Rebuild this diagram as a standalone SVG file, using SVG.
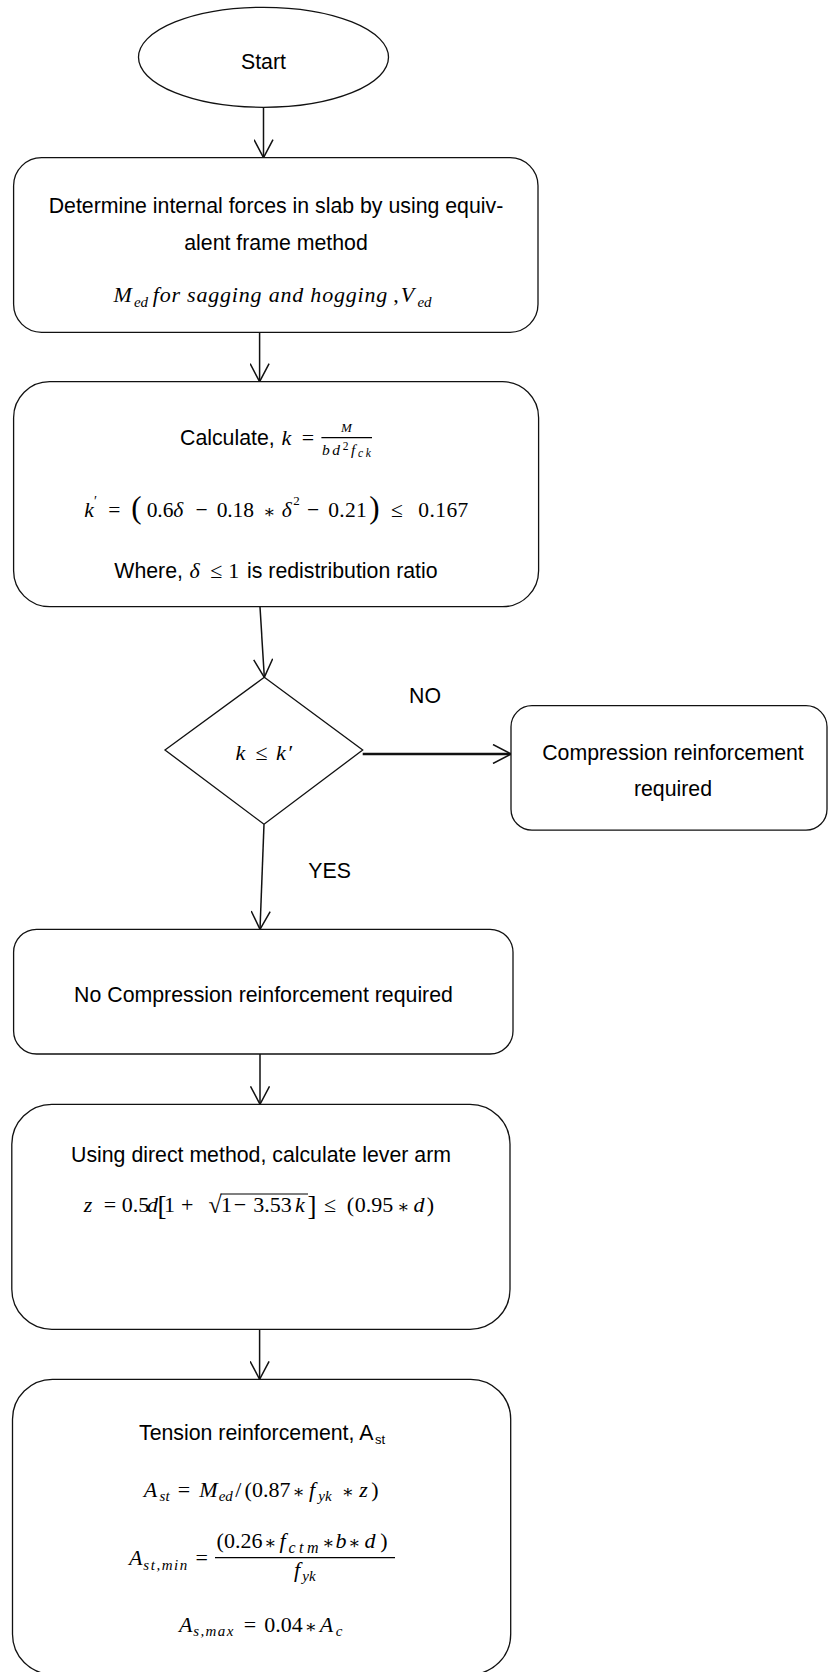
<svg xmlns="http://www.w3.org/2000/svg" width="828" height="1672" viewBox="0 0 828 1672">
  <defs>
    <style>
      .shape{fill:#fff;stroke:#111;stroke-width:1.3}
      .t{font-family:"Liberation Sans",Arial,sans-serif;font-size:21.3px;fill:#000}
      .m{font-family:"Liberation Serif","Times New Roman","DejaVu Serif",serif;font-size:22px;fill:#000;text-anchor:middle}
      .i{font-style:italic}
      .sub{font-size:15px}
      .op{font-size:18px}
      .big{font-size:31px}
      .bar{stroke:#000;stroke-width:1.2}
      .conn line{fill:none;stroke:#111;stroke-width:1.5}
    </style>
    <marker id="arrow" viewBox="0 0 20 20" refX="19" refY="10" markerWidth="20" markerHeight="20" markerUnits="userSpaceOnUse" orient="auto">
      <path d="M1,0.5 L19,10 L1,19.5" fill="none" stroke="#111" stroke-width="1.5"/>
    </marker>
  </defs>
  <rect width="828" height="1672" fill="#fff"/>

  <!-- connectors -->
  <g id="connectors" class="conn">
    <line x1="263.5" y1="107.3" x2="263.5" y2="157.7" marker-end="url(#arrow)"/>
    <line x1="259.6" y1="332.3" x2="259.6" y2="381.7" marker-end="url(#arrow)"/>
    <line x1="260" y1="606.7" x2="264.3" y2="677.3" marker-end="url(#arrow)"/>
    <line x1="362.7" y1="754" x2="511" y2="754" style="stroke-width:2.4" marker-end="url(#arrow)"/>
    <line x1="264" y1="824.3" x2="260" y2="929.3" marker-end="url(#arrow)"/>
    <line x1="260" y1="1054" x2="260" y2="1104.3" marker-end="url(#arrow)"/>
    <line x1="259.6" y1="1329.3" x2="259.6" y2="1379.3" marker-end="url(#arrow)"/>
    <text class="t" x="409" y="702.7">NO</text>
    <text class="t" x="308.3" y="878.3">YES</text>
  </g>

  <!-- start terminator -->
  <g id="start">
    <ellipse class="shape" cx="263.5" cy="57.3" rx="125" ry="50"/>
    <text class="t" x="263.5" y="68.5" text-anchor="middle">Start</text>
  </g>

  <!-- internal forces -->
  <g id="internal-forces">
    <rect class="shape" x="13.6" y="157.7" width="524.4" height="174.6" rx="28"/>
    <text class="t" x="276" y="213" text-anchor="middle">Determine internal forces in slab by using equiv-</text>
    <text class="t" x="276" y="250" text-anchor="middle">alent frame method</text>
    <text class="m i" x="122.7" y="302">M</text>
    <text class="m i sub" x="141" y="307">ed</text>
    <text class="m i" x="270" y="302" textLength="234.5">for sagging and hogging</text>
    <text class="m" x="396" y="302">,</text>
    <text class="m i" x="407.5" y="302">V</text>
    <text class="m i sub" x="424.5" y="307">ed</text>
  </g>

  <!-- k calculation -->
  <g id="calc-k">
    <rect class="shape" x="13.6" y="381.7" width="525" height="225" rx="36"/>
    <text class="t" x="180" y="445">Calculate,</text>
    <text class="m i" x="286.5" y="445">k</text>
    <text class="m" x="308" y="445">=</text>
    <line class="bar" x1="321.4" y1="437.7" x2="372" y2="437.7"/>
    <text class="m i" x="346.5" y="432" style="font-size:13px">M</text>
    <text class="m i" x="346.4" y="455" style="font-size:15.5px" textLength="49">bd<tspan style="font-style:normal;font-size:11.5px" dy="-5">2</tspan><tspan dy="5">f</tspan><tspan style="font-size:11.5px" dy="2">ck</tspan></text>

    <text class="m i" x="89" y="516.7" style="font-size:21.5px">k</text>
    <text class="m" x="95.5" y="506" style="font-size:14px">′</text>
    <text class="m" x="114.3" y="516.7" style="font-size:21.5px">=</text>
    <text class="m big" x="136.5" y="518">(</text>
    <text class="m" x="165" y="516.7" style="font-size:21.5px" textLength="36.6">0.6<tspan class="i">δ</tspan></text>
    <text class="m" x="201.5" y="516.7" style="font-size:21.5px">−</text>
    <text class="m" x="235.3" y="516.7" style="font-size:21.5px" textLength="37.3">0.18</text>
    <text class="m op" x="269" y="517.7">∗</text>
    <text class="m i" x="286.7" y="516.7" style="font-size:21.5px">δ</text>
    <text class="m" x="296.5" y="505" style="font-size:13px">2</text>
    <text class="m" x="313" y="516.7" style="font-size:21.5px">−</text>
    <text class="m" x="347.5" y="516.7" style="font-size:21.5px" textLength="38.4">0.21</text>
    <text class="m big" x="374.5" y="518">)</text>
    <text class="m" x="397" y="516.7" style="font-size:21.5px">≤</text>
    <text class="m" x="443.3" y="516.7" style="font-size:21.5px" textLength="50">0.167</text>

    <text class="t" x="114.3" y="578.3">Where,</text>
    <text class="m i" x="194.5" y="578.3">δ</text>
    <text class="m" x="216.3" y="578.3">≤</text>
    <text class="m" x="233.7" y="578.3">1</text>
    <text class="t" x="247" y="578.3">is redistribution ratio</text>
  </g>

  <!-- decision -->
  <g id="check-k">
    <polygon class="shape" points="264.3,677.3 362.7,750 264,824.3 165,750"/>
    <text class="m i" x="240.5" y="760">k</text>
    <text class="m" x="261.5" y="760">≤</text>
    <text class="m i" x="281" y="760">k</text>
    <text class="m" x="291" y="760">′</text>
  </g>

  <!-- compression reinforcement -->
  <g id="compression-required">
    <rect class="shape" x="511" y="705.7" width="316" height="124.5" rx="21"/>
    <text class="t" x="673" y="760" text-anchor="middle">Compression reinforcement</text>
    <text class="t" x="673" y="796" text-anchor="middle">required</text>
  </g>

  <!-- no compression reinforcement -->
  <g id="no-compression">
    <rect class="shape" x="13.6" y="929.3" width="499.4" height="124.7" rx="23"/>
    <text class="t" x="263.5" y="1001.7" text-anchor="middle">No Compression reinforcement required</text>
  </g>

  <!-- lever arm -->
  <g id="lever-arm">
    <rect class="shape" x="11.8" y="1104.3" width="498.2" height="225" rx="40"/>
    <text class="t" x="261" y="1161.7" text-anchor="middle">Using direct method, calculate lever arm</text>
    <text class="m i" x="88" y="1212">z</text>
    <text class="m" x="110" y="1212">=</text>
    <text class="m" x="135.5" y="1212">0.5</text>
    <text class="m i" x="152.5" y="1212">d</text>
    <text class="m" x="162" y="1215" style="font-size:27px">[</text>
    <text class="m" x="169.5" y="1212">1</text>
    <text class="m" x="187.3" y="1212">+</text>
    <text class="m" x="215" y="1213" style="font-size:24px">√</text>
    <line class="bar" x1="220.5" y1="1194" x2="308" y2="1194"/>
    <text class="m" x="226.5" y="1212">1</text>
    <text class="m" x="240" y="1212">−</text>
    <text class="m" x="272.5" y="1212">3.53</text>
    <text class="m i" x="300" y="1212">k</text>
    <text class="m" x="312" y="1215" style="font-size:27px">]</text>
    <text class="m" x="330" y="1212">≤</text>
    <text class="m" x="350.5" y="1212">(</text>
    <text class="m" x="374" y="1212">0.95</text>
    <text class="m op" x="403" y="1213">∗</text>
    <text class="m i" x="419" y="1212">d</text>
    <text class="m" x="430.5" y="1212">)</text>
  </g>

  <!-- tension reinforcement -->
  <g id="tension-reinforcement">
    <rect class="shape" x="12.5" y="1379.3" width="498.2" height="295" rx="40"/>
    <text class="t" x="139" y="1440">Tension reinforcement, A</text>
    <text class="t" x="375" y="1444" style="font-size:13px">st</text>

    <text class="m i" x="150.5" y="1496.7">A</text>
    <text class="m i sub" x="164.6" y="1501">st</text>
    <text class="m" x="184" y="1496.7">=</text>
    <text class="m i" x="208.3" y="1496.7">M</text>
    <text class="m i sub" x="225.8" y="1501">ed</text>
    <text class="m" x="238.3" y="1496.7">/</text>
    <text class="m" x="267.5" y="1496.7">(0.87</text>
    <text class="m op" x="298.3" y="1497.7">∗</text>
    <text class="m i" x="312" y="1496.7">f</text>
    <text class="m i sub" x="325" y="1501">yk</text>
    <text class="m op" x="347.5" y="1497.7">∗</text>
    <text class="m i" x="363.5" y="1496.7">z</text>
    <text class="m" x="375" y="1496.7">)</text>

    <text class="m i" x="135.8" y="1565">A</text>
    <text class="m i sub" x="165.3" y="1569.5" textLength="44">st,min</text>
    <text class="m" x="201.7" y="1565">=</text>
    <line class="bar" x1="215" y1="1557.7" x2="395" y2="1557.7"/>
    <text class="m" x="239.5" y="1548.3">(0.26</text>
    <text class="m op" x="270" y="1549.3">∗</text>
    <text class="m i" x="282.5" y="1548.3">f</text>
    <text class="m i sub" x="303.5" y="1552.5" style="font-size:16px" textLength="30">ctm</text>
    <text class="m op" x="328" y="1549.3">∗</text>
    <text class="m i" x="341" y="1548.3">b</text>
    <text class="m op" x="354" y="1549.3">∗</text>
    <text class="m i" x="370" y="1548.3">d</text>
    <text class="m" x="384" y="1548.3">)</text>
    <text class="m i" x="297" y="1576.7">f</text>
    <text class="m i sub" x="309" y="1581">yk</text>

    <text class="m i" x="185.8" y="1631.7">A</text>
    <text class="m i sub" x="213.3" y="1636" textLength="40">s,max</text>
    <text class="m" x="250" y="1631.7">=</text>
    <text class="m" x="283.5" y="1631.7">0.04</text>
    <text class="m op" x="310.5" y="1632.7">∗</text>
    <text class="m i" x="326.5" y="1631.7">A</text>
    <text class="m i sub" x="339" y="1636">c</text>
  </g>
</svg>
